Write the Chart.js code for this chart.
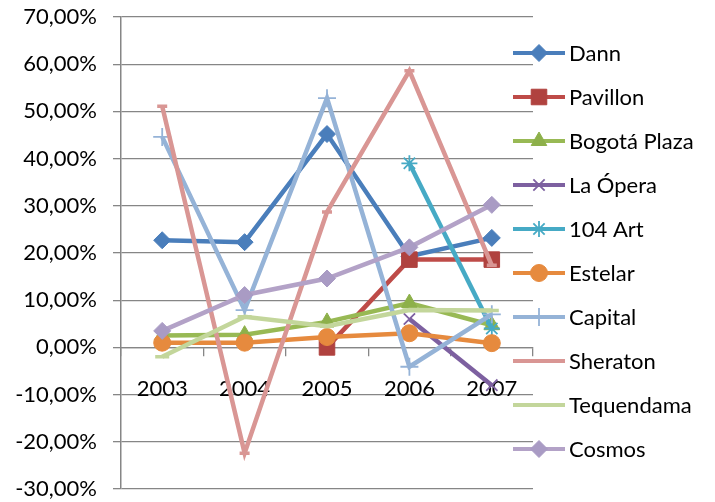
<!DOCTYPE html>
<html>
<head>
<meta charset="utf-8">
<script src="https://cdn.jsdelivr.net/npm/chart.js@4"></script>
<style>
  html, body { margin: 0; padding: 0; background: #fff; }
  #wrap { width: 715px; height: 502px; }
</style>
</head>
<body>
<div id="wrap"><canvas id="myChart" width="715" height="502"></canvas></div>
<script>
var years = ["2003", "2004", "2005", "2006", "2007"];
var seriesNames = ["Dann", "Pavillon", "Bogotá Plaza", "La Ópera", "104 Art", "Estelar", "Capital", "Sheraton", "Tequendama", "Cosmos"];
var dann = [22.7, 22.3, 45.2, 19.3, 23.2];
var pavillon = [null, null, 0.0, 18.6, 18.6];
var bogotaPlaza = [2.5, 2.7, 5.4, 9.4, 4.7];
var laOpera = [null, null, null, 6.0, -8.0];
var art104 = [null, null, null, 39.0, 4.0];
var estelar = [1.0, 1.0, 2.2, 3.0, 0.9];
var capital = [44.6, 7.9, 52.8, -4.1, 7.0];
var sheraton = [51.1, -22.4, 28.7, 58.6, 17.4];
var tequendama = [-2.0, 6.5, 4.5, 7.9, 7.8];
var cosmos = [3.5, 11.1, 14.6, 21.2, 30.2];
var yTicks = [-30, -20, -10, 0, 10, 20, 30, 40, 50, 60, 70];

var values = [dann, pavillon, bogotaPlaza, laOpera, art104, estelar, capital, sheraton, tequendama, cosmos];
var lineColors = ["#4A7EBB", "#BE4B48", "#98B954", "#7D60A0", "#46AAC5", "#E68A3E", "#95B3D7", "#D99694", "#C3D69B", "#B3A2C7"];
var markerFill = ["#4A7EBB", "#B0423F", "#8DB04A", "#7D60A0", "#46AAC5", "#E68A3E", "#95B3D7", "#D99694", "#C3D69B", "#A99BC4"];
var markers = ["rectRot", "rect", "triangle", "crossRot", "star", "circle", "cross", "line", "line", "rectRot"];
var markerSize = [8.5, 11, 9, 8, 8, 8.5, 9, 5, 7, 8.5];
var markerBorder = [1, 1, 1, 1.8, 1.8, 1, 1.8, 3.5, 3.5, 1];

var FONT = "Lato";

var datasets = values.map(function (v, i) {
  return {
    label: seriesNames[i],
    data: v,
    borderColor: lineColors[i],
    backgroundColor: markerFill[i],
    borderWidth: 4.5,
    pointStyle: markers[i],
    pointRadius: markerSize[i],
    pointBorderWidth: markerBorder[i],
    pointBorderColor: (markers[i] == "crossRot" || markers[i] == "star" || markers[i] == "cross" || markers[i] == "line") ? lineColors[i] : markerFill[i],
    pointBackgroundColor: markerFill[i],
    tension: 0,
    spanGaps: false,
    order: values.length - i,
  };
});

function fmtPct(v) {
  return v.toFixed(2).replace(".", ",") + "%";
}

// legend drawn by hand so it can sit over the right edge like the original
var sideLegend = {
  id: "sideLegend",
  afterDraw: function (chart) {
    var ctx = chart.ctx;
    ctx.save();
    chart.data.datasets.forEach(function (ds, i) {
      var y = 53 + i * 44.0;
      ctx.strokeStyle = ds.borderColor;
      ctx.lineWidth = 4;
      ctx.beginPath();
      ctx.moveTo(513, y);
      ctx.lineTo(565, y);
      ctx.stroke();
      ctx.fillStyle = ds.pointBackgroundColor;
      ctx.strokeStyle = ds.pointBorderColor;
      ctx.lineWidth = ds.pointBorderWidth;
      Chart.helpers.drawPoint(ctx, {
        pointStyle: ds.pointStyle,
        radius: ds.pointRadius,
        borderWidth: ds.pointBorderWidth,
        rotation: 0,
      }, 539, y);
      ctx.fillStyle = "#000";
      ctx.font = "22px " + FONT;
      ctx.textBaseline = "middle";
      ctx.textAlign = "left";
      ctx.fillText(ds.label, 569, y + 1);
    });
    ctx.restore();
  },
};

var chart = new Chart(document.getElementById("myChart"), {
  type: "line",
  data: { labels: years, datasets: datasets },
  options: {
    responsive: false,
    animation: false,
    layout: { padding: { top: 17, right: 182, bottom: 13, left: 0 } },
    plugins: {
      legend: { display: false },
      tooltip: { enabled: false },
    },
    scales: {
      x: {
        type: "category",
        offset: true,
        position: { y: 0 },
        grid: {
          offset: true,
          drawOnChartArea: false,
          drawTicks: true,
          tickLength: 8,
          color: "#868686",
          lineWidth: 1.3,
        },
        border: { display: true, color: "#868686", width: 1.3 },
        ticks: {
          color: "#000",
          font: { family: FONT, size: 22 },
          padding: 20,
          maxRotation: 0,
        },
        afterFit: function (scale) {
          scale.height = 0;
          scale.paddingLeft = 0;
          scale.paddingRight = 0;
        },
      },
      y: {
        min: -30,
        max: 70,
        afterBuildTicks: function (scale) {
          scale.ticks = yTicks.map(function (t) { return { value: t }; });
        },
        grid: {
          color: "#868686",
          lineWidth: 1.3,
          tickLength: 8,
        },
        border: { display: true, color: "#868686", width: 1.5 },
        ticks: {
          color: "#000",
          font: { family: FONT, size: 22 },
          padding: 16,
          callback: function (v) { return fmtPct(v); },
        },
        afterFit: function (scale) {
          scale.width = 121;
          scale.paddingTop = 0;
          scale.paddingBottom = 0;
        },
      },
    },
  },
  plugins: [sideLegend],
});
</script>
</body>
</html>
